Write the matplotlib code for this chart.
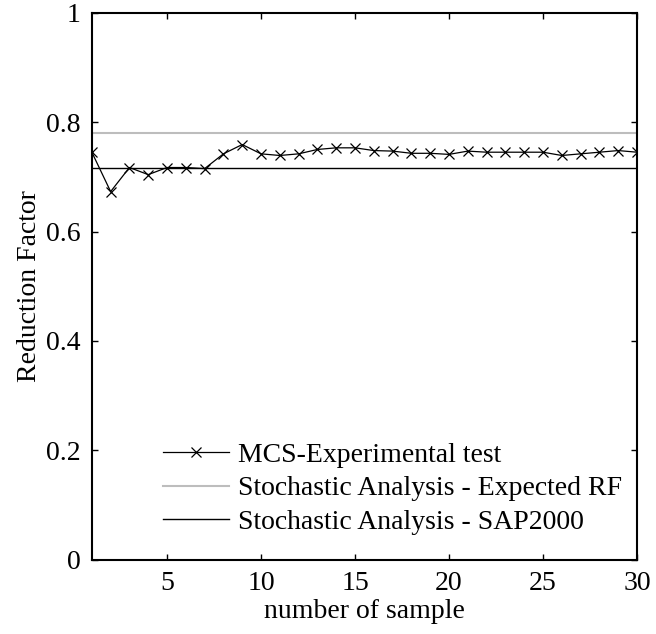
import numpy as np
import matplotlib as mpl
mpl.use('Agg')
import matplotlib.pyplot as plt

plt.rcParams['font.family'] = ['Liberation Serif', 'DejaVu Serif']

# data
samples = list(range(1, 31))
rf_mcs = [0.745, 0.673, 0.717, 0.704, 0.717, 0.717, 0.715, 0.742, 0.759, 0.742,
          0.739, 0.742, 0.750, 0.753, 0.753, 0.748, 0.747, 0.743, 0.743, 0.741,
          0.747, 0.745, 0.745, 0.745, 0.745, 0.739, 0.742, 0.745, 0.748, 0.745]
rf_expected = 0.78
rf_sap2000 = 0.717

xticks = [5, 10, 15, 20, 25, 30]
yticks = [0, 0.2, 0.4, 0.6, 0.8, 1]

fig = plt.figure(figsize=(6.56, 6.34), dpi=100)
ax = fig.add_axes([0.140, 0.117, 0.831, 0.863])

ax.plot(samples, rf_mcs, color='black', lw=0.9, marker='x', ms=7, mew=0.9,
        label='MCS-Experimental test')
ax.axhline(rf_expected, color='#bdbdbd', lw=1.5, label='Stochastic Analysis - Expected RF')
ax.axhline(rf_sap2000, color='black', lw=1.0, label='Stochastic Analysis - SAP2000')

ax.set_xlim(1, 30)
ax.set_ylim(0, 1)
ax.set_xticks(xticks)
ax.set_yticks(yticks)
ax.set_yticklabels(['0', '0.2', '0.4', '0.6', '0.8', '1'])
ax.tick_params(direction='in', top=True, right=True, length=4, width=1,
               labelsize=20)
ax.tick_params(axis='x', pad=8)
ax.tick_params(axis='y', pad=8)
for s in ax.spines.values():
    s.set_linewidth(1.5)

ax.set_xlabel('number of sample', fontsize=20, labelpad=2)
ax.set_ylabel('Reduction Factor', fontsize=20, labelpad=3)

ax.legend(loc='lower left', bbox_to_anchor=(0.13, 0.045), frameon=False,
          fontsize=20, handlelength=2.4, handletextpad=0.3, labelspacing=0.3,
          borderpad=0, borderaxespad=0)

plt.savefig('out.png', dpi=100)
